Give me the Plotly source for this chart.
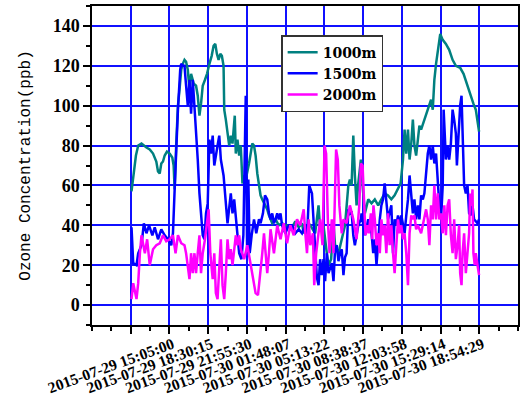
import plotly.graph_objects as go

# Elapsed hours since 2015-07-29 15:05:00 and ozone values (ppb)
t_1000 = [0.07,0.22,0.46,0.66,0.95,1.39,1.68,1.97,2.26,2.41,2.56,2.70,2.85,3.00,3.20,3.44,3.67,3.79,3.88,4.02,
          4.17,4.31,4.46,4.60,4.75,4.89,5.04,5.19,5.33,5.57,5.77,5.92,6.07,6.21,6.36,6.56,6.74,6.95,7.15,7.32,
          7.47,7.61,7.76,7.91,8.05,8.20,8.26,8.40,8.55,8.70,8.84,8.99,9.19,9.28,9.43,9.58,9.72,9.87,10.02,10.16,
          10.45,10.74,10.89,11.03,11.18,11.33,11.47,11.62,11.86,12.06,12.21,12.50,12.79,13.08,13.37,13.66,13.96,
          14.25,14.54,14.84,15.13,15.28,15.57,15.86,16.29,16.59,16.73,17.03,17.32,17.47,17.70,17.91,18.05,18.35,
          18.64,18.93,19.22,19.36,19.51,19.66,19.80,19.95,20.10,20.33,20.48,20.68,20.98,21.27,21.56,21.86,22.14,
          22.43,22.73,23.02,23.31,23.61,23.84,24.05,24.19,24.34,24.49,24.63,24.78,24.92,25.06,25.21,25.36,25.50,
          25.65,25.94,26.24,26.53,26.68,26.82,26.97,27.12,27.34,27.56,27.84,28.13,28.43,28.72,29.10,29.40,29.69,
          29.98,30.27,30.48,30.63,30.77]
o3_1000 = [57,65,75,80,81,79,78,76,72,67,66,71,72,75,77,76,74,70,58,81,
           100,108,118,121,123,122,118,108,116,111,110,105,95,101,110,113,116,121,125,130,
           131,126,123,126,125,120,98,93,85,80,85,81,95,76,83,75,80,61,65,63,
           71,81,80,75,66,60,55,53,50,48,45,41,43,40,41,40,40,
           39,42,39,41,36,38,40,36,50,38,40,26,20,23,41,30,26,
           33,40,60,63,60,85,65,50,61,73,60,46,53,51,53,50,53,
           56,55,53,55,58,61,73,88,76,88,73,81,93,80,75,83,90,
           88,93,98,103,98,113,121,128,136,133,131,128,123,120,119,116,111,
           105,101,98,93,87]

t_1500 = [0.07,0.22,0.51,0.66,0.95,1.16,1.39,1.62,1.91,2.12,2.41,2.70,3.00,3.29,3.58,3.73,3.88,4.02,4.17,4.37,
          4.46,4.60,4.75,4.89,5.04,5.19,5.33,5.48,5.63,5.77,5.92,6.07,6.21,6.36,6.51,6.65,6.80,6.95,7.09,7.24,
          7.38,7.52,7.67,7.82,7.96,8.20,8.40,8.55,8.84,8.99,9.14,9.28,9.43,9.58,9.78,9.95,10.16,10.28,10.39,10.51,
          10.68,10.89,11.09,11.33,11.47,11.68,11.86,12.06,12.21,12.35,12.50,12.65,12.79,12.94,13.08,13.23,13.37,
          13.66,13.96,14.25,14.54,14.84,15.13,15.42,15.57,15.77,16.01,16.15,16.29,16.44,16.59,16.73,16.88,17.03,
          17.17,17.32,17.47,17.76,17.91,18.05,18.20,18.35,18.49,18.64,18.79,18.93,19.07,19.22,19.36,19.51,19.66,
          19.80,20.10,20.33,20.39,20.54,20.68,20.98,21.27,21.42,21.56,21.71,21.86,22.00,22.14,22.29,22.43,22.58,
          22.73,23.02,23.17,23.31,23.46,23.61,23.75,23.90,24.05,24.19,24.34,24.49,24.63,24.78,24.92,25.06,25.21,
          25.36,25.50,25.65,25.80,25.94,26.09,26.24,26.38,26.53,26.68,26.82,26.97,27.12,27.26,27.41,27.56,27.64,
          27.76,27.84,27.99,28.13,28.28,28.43,28.57,28.72,28.81,28.92,29.10,29.22,29.31,29.45,29.60,29.75,29.89,
          30.04,30.19,30.33,30.63,30.77]
o3_1500 = [39,21,20,26,30,41,36,40,35,39,33,38,35,33,30,36,58,80,98,118,
           121,120,120,110,100,113,96,113,100,88,73,56,43,35,33,46,51,83,76,85,
           70,76,80,85,73,65,50,41,56,46,53,43,35,26,23,35,105,26,63,26,
           35,43,36,43,41,46,55,53,46,43,46,41,43,46,43,46,40,
           36,40,40,36,38,36,40,33,60,56,43,26,14,10,23,15,23,
           12,26,16,21,12,28,30,22,26,28,15,24,26,48,46,47,35,
           30,40,43,46,40,35,43,36,26,33,20,35,43,50,53,61,50,
           43,50,26,43,40,45,40,45,41,36,45,53,65,56,46,53,43,
           50,43,55,53,56,66,76,80,73,80,71,76,60,50,43,60,98,
           76,73,80,73,81,98,93,86,70,81,100,105,81,60,56,60,46,
           45,50,43,41,43]

t_2000 = [0.07,0.22,0.51,0.66,0.81,0.95,1.25,1.45,1.68,1.97,2.26,2.56,2.85,3.14,3.44,3.73,3.96,4.17,4.46,4.75,
          4.89,5.04,5.19,5.33,5.48,5.63,5.77,5.92,6.07,6.21,6.36,6.56,6.74,6.88,7.03,7.24,7.38,7.52,7.67,7.82,
          7.96,8.11,8.26,8.40,8.55,8.70,8.84,8.99,9.14,9.28,9.43,9.58,9.72,10.02,10.30,10.59,10.89,11.03,11.24,11.47,
          11.62,11.77,11.91,12.06,12.21,12.35,12.65,12.94,13.23,13.52,13.81,14.10,14.40,14.69,14.98,15.28,15.42,
          15.57,15.72,15.86,16.09,16.21,16.38,16.59,16.73,16.94,17.12,17.26,17.41,17.56,17.76,17.91,18.14,18.29,
          18.43,18.64,18.79,19.07,19.36,19.66,19.95,20.19,20.33,20.48,20.63,20.74,20.92,21.03,21.21,21.33,21.44,
          21.56,21.71,21.86,22.00,22.14,22.29,22.43,22.58,22.73,22.87,23.02,23.17,23.31,23.46,23.61,23.75,23.90,
          24.05,24.19,24.34,24.49,24.63,24.78,24.92,25.06,25.21,25.36,25.65,25.80,25.94,26.09,26.24,26.38,26.53,
          26.68,26.82,26.97,27.12,27.26,27.41,27.56,27.70,27.84,27.99,28.13,28.28,28.43,28.57,28.72,28.87,29.01,
          29.10,29.22,29.31,29.45,29.60,29.75,29.89,29.98,30.10,30.19,30.27,30.39,30.48,30.63,30.77]
o3_2000 = [3,11,3,11,26,35,26,33,20,28,30,31,35,32,33,35,26,35,31,30,
           26,20,13,26,16,26,16,26,35,16,26,33,43,48,26,13,26,6,3,16,
           33,10,3,16,33,23,28,20,30,35,30,35,28,23,30,20,11,6,5,16,
           26,36,26,16,26,38,26,40,33,41,31,40,35,43,40,48,36,
           26,43,30,36,10,26,35,43,30,80,76,43,26,43,26,78,73,
           50,36,43,41,50,43,33,50,71,70,43,35,40,36,46,33,50,
           43,30,36,26,43,35,40,26,46,30,40,26,16,30,43,36,40,
           33,36,26,10,36,45,43,45,38,40,36,40,43,48,43,30,50,
           43,60,43,56,43,46,36,50,35,50,53,35,26,43,23,30,40,
           16,10,26,36,16,26,36,56,50,58,26,20,26,20,15]

series_names = ["1000m", "1500m", "2000m"]
series_colors = ["#008080", "#0000FF", "#FF00FF"]

tick_step_h = 3 + 25 / 60 + 15 / 3600
tick_labels = ["2015-07-29 15:05:00", "2015-07-29 18:30:15", "2015-07-29 21:55:30",
               "2015-07-30 01:48:07", "2015-07-30 05:13:22", "2015-07-30 08:38:37",
               "2015-07-30 12:03:58", "2015-07-30 15:29:14", "2015-07-30 18:54:29", ""]
tick_vals = [i * tick_step_h for i in range(len(tick_labels))]
y_ticks = [0, 20, 40, 60, 80, 100, 120, 140]

fig = go.Figure()
for t, v, name, col in zip([t_1000, t_1500, t_2000], [o3_1000, o3_1500, o3_2000],
                           series_names, series_colors):
    fig.add_trace(go.Scatter(x=t, y=v, mode="lines", name=name,
                             line=dict(color=col, width=2.5)))

axis_font = dict(family="Liberation Serif", size=18, color="black", weight="bold")

fig.update_layout(
    width=528, height=403,
    margin=dict(l=92, r=10, t=6, b=78),
    paper_bgcolor="white", plot_bgcolor="white",
    showlegend=True,
    legend=dict(x=0.444, y=0.909, xanchor="left", yanchor="top",
                bgcolor="white", bordercolor="#333333", borderwidth=1.5,
                font=dict(family="DejaVu Serif", size=14, color="black", weight="bold"),
                tracegroupgap=0, itemwidth=30),
    xaxis=dict(range=[-tick_step_h, 10 * tick_step_h], tickmode="array",
               tickvals=tick_vals, ticktext=tick_labels, tickangle=-20,
               tickfont=dict(family="Liberation Serif", size=15.5, color="black", weight="bold"),
               ticklabelshift=42, ticklabelstandoff=-4,
               ticks="outside", ticklen=7, tickcolor="black", tickwidth=1.5,
               showgrid=True, gridcolor="#1010FF", gridwidth=1.8, zeroline=False,
               showline=True, linecolor="black", linewidth=1.5, mirror=True,
               automargin=False,
               minor=dict(ticks="outside", ticklen=4, tickcolor="black", tickwidth=1.5,
                          tickmode="linear", tick0=0, dtick=tick_step_h / 2,
                          showgrid=False)),
    yaxis=dict(range=[-10, 150], tickmode="array", tickvals=y_ticks,
               tickfont=axis_font, ticks="outside", ticklen=7, tickcolor="black", tickwidth=1.5,
               showgrid=True, gridcolor="#1010FF", gridwidth=1.8, zeroline=False,
               showline=True, linecolor="black", linewidth=1.5, mirror=True,
               automargin=False,
               minor=dict(ticks="outside", ticklen=4, tickcolor="black", tickwidth=1.5,
                          tickmode="linear", tick0=0, dtick=10, showgrid=False),
               title=dict(text="Ozone Concentration(ppb)", standoff=18,
                          font=dict(family="Liberation Mono", size=16, color="black"))),
)

fig.write_html("out.html", config={"displayModeBar": False},
               post_script="document.body.style.margin='0';")
